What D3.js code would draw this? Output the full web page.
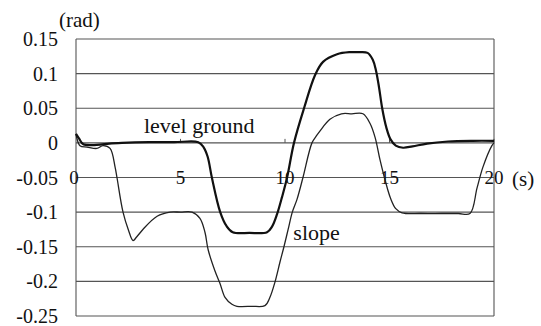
<!DOCTYPE html>
<html>
<head>
<meta charset="utf-8">
<script src="https://cdn.jsdelivr.net/npm/d3@7"></script>
</head>
<body style="margin:0; background:#fff">
<svg id="chart" width="541" height="326" style="display:block; font-family: 'Times New Roman', Tinos, 'Liberation Serif';"></svg>
<script>
// Time axis (s) and angle values (rad) for the two walking conditions
const levelTime  = [0, 0.15, 0.35, 1.0, 1.6, 2.2, 3.5, 4.7, 5.85, 6.1, 6.3, 6.5, 6.9, 7.2, 7.5, 8.3, 9.14, 9.38, 9.62, 9.86, 10.1, 10.43, 10.91, 11.44, 11.82, 12.49, 13.1, 13.5, 13.95, 14.2, 14.35, 14.5, 14.65, 14.85, 15.05, 15.3, 15.65, 16.1, 16.8, 17.8, 19.0, 20];
const levelValue = [0.013, 0.006, -0.002, -0.003, -0.001, 0, 0.001, 0.001, 0.001, -0.006, -0.02, -0.05, -0.1, -0.12, -0.129, -0.13, -0.129, -0.121, -0.103, -0.078, -0.05, 0, 0.05, 0.098, 0.117, 0.128, 0.131, 0.131, 0.13, 0.12, 0.105, 0.08, 0.05, 0.022, 0.005, -0.004, -0.007, -0.005, -0.001, 0.002, 0.003, 0.003];

const slopeTime  = [0, 0.19, 0.53, 1.0, 1.29, 1.63, 1.87, 1.96, 2.25, 2.5, 2.73, 2.9, 3.2, 3.88, 4.5, 5.0, 5.55, 5.93, 6.17, 6.32, 6.65, 6.89, 7.13, 7.46, 7.7, 8.4, 9.04, 9.28, 9.52, 9.76, 9.95, 10.15, 10.35, 10.57, 10.86, 11.29, 11.5, 11.67, 12.15, 12.7, 13.2, 13.73, 14.07, 14.31, 14.55, 14.8, 15.05, 15.3, 15.6, 16.5, 17.5, 18.3, 18.85, 19.19, 19.47, 19.9, 20];
const slopeValue = [0.013, -0.004, -0.006, -0.008, -0.004, -0.008, -0.035, -0.05, -0.1, -0.125, -0.141, -0.136, -0.125, -0.106, -0.1, -0.1, -0.1, -0.109, -0.129, -0.154, -0.185, -0.203, -0.223, -0.233, -0.236, -0.236, -0.235, -0.223, -0.201, -0.172, -0.15, -0.125, -0.1, -0.082, -0.05, 0, 0.01, 0.017, 0.034, 0.042, 0.042, 0.042, 0.028, 0.008, -0.025, -0.055, -0.08, -0.095, -0.101, -0.102, -0.102, -0.102, -0.102, -0.065, -0.035, -0.004, 0];

const xTicks = [0, 5, 10, 15, 20];
const xTickLabels = ["0", "5", "10", "15", "20"];
const yTicks = [0.15, 0.1, 0.05, 0, -0.05, -0.1, -0.15, -0.2, -0.25];
const yTickLabels = ["0.15", "0.1", "0.05", "0", "-0.05", "-0.1", "-0.15", "-0.2", "-0.25"];

const fontStack = "'Times New Roman', Tinos, 'Liberation Serif'";

const svg = d3.select("#chart");
svg.append("rect").attr("width", 541).attr("height", 326).attr("fill", "#fff");

const x = d3.scaleLinear().domain([0, 20]).range([76, 494]);
const y = d3.scaleLinear().domain([-0.25, 0.15]).range([316, 39]);

// Horizontal grid lines, one per labelled value
svg.append("g").selectAll("line").data(yTicks).join("line")
  .attr("x1", x(0)).attr("x2", x(20))
  .attr("y1", d => y(d)).attr("y2", d => y(d))
  .attr("stroke", "#555").attr("stroke-width", 1.1);

// Left and right frame edges
svg.append("g").selectAll("line").data([0, 20]).join("line")
  .attr("x1", d => x(d)).attr("x2", d => x(d))
  .attr("y1", y(0.15)).attr("y2", y(-0.25))
  .attr("stroke", "#555").attr("stroke-width", 1.1);

// Small tick marks on the zero line
svg.append("g").selectAll("line").data(xTicks.slice(1)).join("line")
  .attr("x1", d => x(d)).attr("x2", d => x(d))
  .attr("y1", y(0)).attr("y2", y(0) - 4)
  .attr("stroke", "#555").attr("stroke-width", 1);

const label = (sel) => sel.style("font-family", fontStack).attr("fill", "#111");

// Y tick labels
svg.append("g").selectAll("text").data(yTicks).join("text")
  .call(label)
  .attr("x", 58).attr("y", d => y(d))
  .attr("text-anchor", "end").attr("dominant-baseline", "central")
  .attr("font-size", 20)
  .text((d, i) => yTickLabels[i]);

// X tick labels sit just below the zero line
svg.append("g").selectAll("text").data(xTicks).join("text")
  .call(label)
  .attr("x", d => x(d) - (d === 0 ? 2 : 0)).attr("y", y(0) + 35)
  .attr("text-anchor", "middle").attr("dominant-baseline", "central")
  .attr("font-size", 19)
  .text((d, i) => xTickLabels[i]);

// Units
svg.append("text").call(label).attr("x", 59).attr("y", 20)
  .attr("dominant-baseline", "central").attr("font-size", 21).text("(rad)");
svg.append("text").call(label).attr("x", 512).attr("y", y(0) + 36)
  .attr("dominant-baseline", "central").attr("font-size", 21).text("(s)");

// Curves
const line = d3.line()
  .x(d => x(d[0]))
  .y(d => y(d[1]))
  .curve(d3.curveCatmullRom.alpha(0.5));

svg.append("path")
  .datum(d3.zip(slopeTime, slopeValue))
  .attr("d", line)
  .attr("fill", "none").attr("stroke", "#222").attr("stroke-width", 1.3)
  .attr("stroke-linejoin", "round");

svg.append("path")
  .datum(d3.zip(levelTime, levelValue))
  .attr("d", line)
  .attr("fill", "none").attr("stroke", "#111").attr("stroke-width", 2.2)
  .attr("stroke-linejoin", "round");

// Curve annotations
svg.append("text").call(label).attr("x", x(3.25)).attr("y", y(0) - 10)
  .attr("font-size", 22).text("level ground");
svg.append("text").call(label).attr("x", x(10.4)).attr("y", y(-0.14))
  .attr("font-size", 22).text("slope");
</script>
</body>
</html>
